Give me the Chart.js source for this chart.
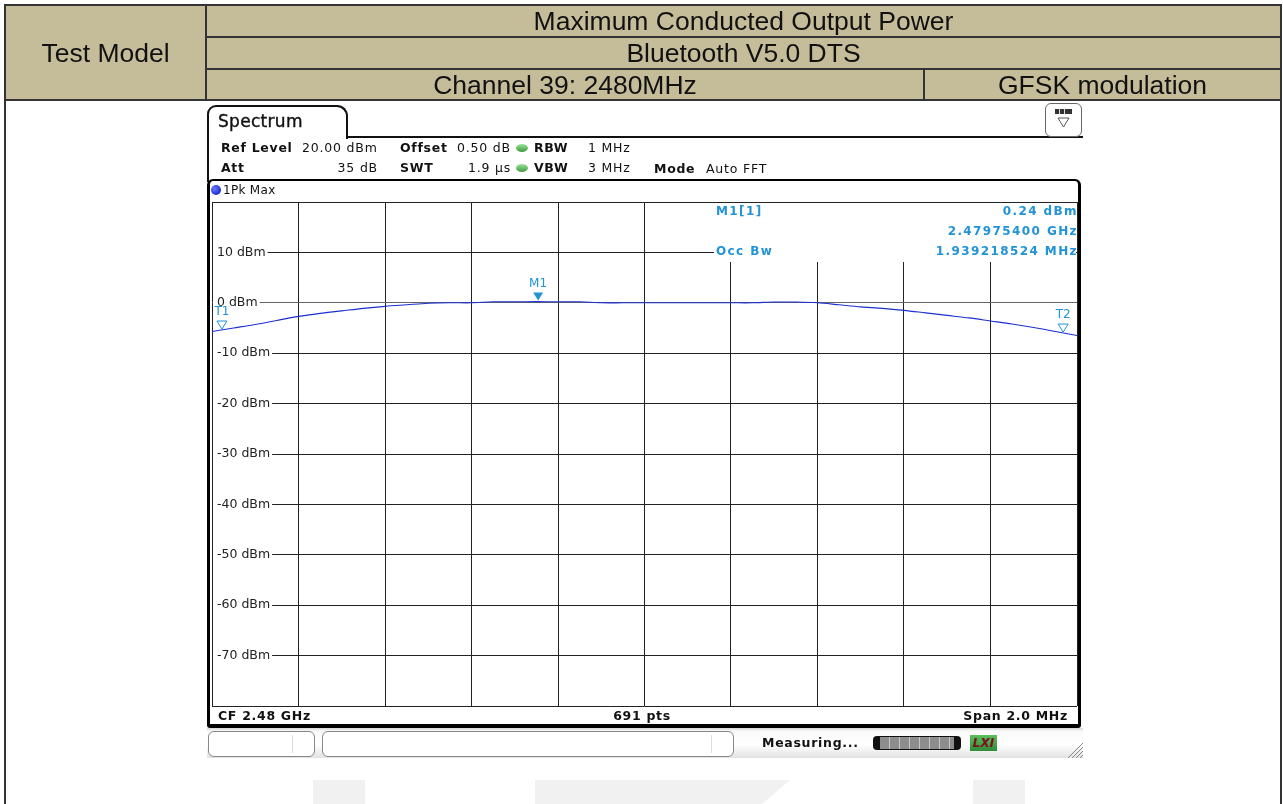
<!DOCTYPE html>
<html>
<head>
<meta charset="utf-8">
<title>Maximum Conducted Output Power - Channel 39</title>
<script src="https://cdn.jsdelivr.net/npm/chart.js"></script>
<style>
  body { margin: 0; background: #fff; overflow: hidden; }
  #page { position: relative; width: 1283px; height: 804px; }
  .abs { position: absolute; box-sizing: border-box; }
  .hdr { position: absolute; display: flex; align-items: center; justify-content: center;
         font-family: "Liberation Sans", Arial, sans-serif; font-size: 26.5px; color: #111; z-index: 3; }
  .t { position: absolute; font-family: "DejaVu Sans", sans-serif; font-size: 12.5px; line-height: 1;
       white-space: nowrap; letter-spacing: 0.8px; color: #111; transform: translateY(-50%); z-index: 3; }
  .t.b { font-weight: bold; letter-spacing: 0.7px; }
  #chartBox { position: absolute; left: 0; top: 0; width: 1283px; height: 804px; z-index: 2; }
</style>
</head>
<body>
<div id="page">
  <!-- header table -->
  <div class="abs" style="left:4px;top:4px;width:1278px;height:97px;background:#c5bd99;border:2px solid #333;"></div>
  <div class="abs" style="left:205px;top:4px;width:2px;height:97px;background:#333;"></div>
  <div class="abs" style="left:206px;top:36px;width:1076px;height:2px;background:#333;"></div>
  <div class="abs" style="left:206px;top:68px;width:1076px;height:2px;background:#333;"></div>
  <div class="abs" style="left:923px;top:69px;width:2px;height:32px;background:#333;"></div>
  <div class="abs" style="left:4px;top:100px;width:2px;height:704px;background:#333;"></div>
  <div class="abs" style="left:1280px;top:100px;width:2px;height:704px;background:#333;"></div>
  <div class="hdr" style="left:6px;top:6px;width:199px;height:94px;">Test Model</div>
  <div class="hdr" style="left:207px;top:5px;width:1073px;height:32px;">Maximum Conducted Output Power</div>
  <div class="hdr" style="left:207px;top:38px;width:1073px;height:31px;">Bluetooth V5.0 DTS</div>
  <div class="hdr" style="left:207px;top:70px;width:716px;height:31px;">Channel 39: 2480MHz</div>
  <div class="hdr" style="left:925px;top:70px;width:355px;height:31px;">GFSK modulation</div>

  <!-- watermark -->
  <div class="abs" style="left:313px;top:780px;width:52px;height:24px;background:#f1f1f1;"></div>
  <div class="abs" style="left:535px;top:780px;width:255px;height:24px;background:#f1f1f1;clip-path:polygon(0 0,100% 0,89% 100%,0 100%);"></div>
  <div class="abs" style="left:973px;top:780px;width:52px;height:24px;background:#f1f1f1;"></div>

  <!-- instrument panel -->
  <div class="abs" style="left:207px;top:105px;width:141px;height:34px;border:2px solid #111;border-bottom:none;border-radius:9px 11px 0 0;background:#fff;"></div>
  <div class="abs" style="left:346px;top:136px;width:737px;height:2px;background:#111;"></div>
  <div class="abs" style="left:207px;top:130px;width:2px;height:52px;background:#111;"></div>
  <div class="abs" style="left:1045px;top:103px;width:37px;height:34px;border:1.5px solid #666;border-radius:6px;background:#fff;z-index:3;">
    <svg width="34" height="31" style="position:absolute;left:0;top:0">
      <rect x="9" y="5" width="17" height="5" fill="#333"/>
      <line x1="13.5" y1="5" x2="13.5" y2="10" stroke="#ddd"/>
      <line x1="18.5" y1="5" x2="18.5" y2="10" stroke="#ddd"/>
      <polygon points="12,14 23,14 17.5,23" fill="none" stroke="#555"/>
    </svg>
  </div>
  <div class="abs" style="left:207px;top:179px;width:874px;height:549px;border:solid #000;border-width:2px 3px 4px 3px;border-radius:6px 6px 3px 3px;background:#fff;z-index:1;"></div>

  <!-- status bar -->
  <div class="abs" style="left:207px;top:728px;width:876px;height:30px;background:linear-gradient(to bottom,#d4d4d4 0,#fafafa 3px,#fff 55%,#e2e2e2 100%);"></div>
  <div class="abs" style="left:208px;top:731px;width:107px;height:26px;border:1px solid #888;border-radius:6px;background:#fff;"></div>
  <div class="abs" style="left:292px;top:735px;width:1px;height:18px;background:#ddd;"></div>
  <div class="abs" style="left:322px;top:731px;width:412px;height:26px;border:1px solid #888;border-radius:6px;background:#fff;"></div>
  <div class="abs" style="left:711px;top:735px;width:1px;height:18px;background:#ddd;"></div>
  <div class="abs" style="left:873px;top:736px;width:88px;height:14px;border-radius:4px;background:#111;"></div>
  <div class="abs" style="left:880px;top:737px;width:74px;height:12px;background:repeating-linear-gradient(to right,#8d8d8d 0,#8d8d8d 9px,#c8c8c8 9px,#c8c8c8 10px);"></div>
  <div class="abs" style="left:970px;top:735px;width:27px;height:16px;background:linear-gradient(#5cbf5c,#2e8b3a);font:italic bold 12px 'DejaVu Sans';color:#7a1020;text-align:center;line-height:16px;z-index:3;">LXI</div>
  <svg class="abs" style="left:1064px;top:738px;" width="19" height="20">
    <line x1="4" y1="20" x2="19" y2="5" stroke="#888"/>
    <line x1="8" y1="20" x2="19" y2="9" stroke="#888"/>
    <line x1="12" y1="20" x2="19" y2="13" stroke="#888"/>
    <line x1="16" y1="20" x2="19" y2="17" stroke="#888"/>
  </svg>
  <div class="abs" style="left:211px;top:185px;width:10px;height:10px;border-radius:50%;background:radial-gradient(circle at 35% 35%,#6a7cff,#1c2fd0 70%);z-index:3;"></div>

  <div id="chartBox"><canvas id="spec" width="1283" height="804"></canvas></div>
</div>

<script>
// trace: 1Pk Max, frequency in MHz, level in dBm
var freqMHz = [2479.00, 2479.05, 2479.10, 2479.15, 2479.20, 2479.25, 2479.30, 2479.35, 2479.40, 2479.45,
               2479.50, 2479.55, 2479.60, 2479.65, 2479.70, 2479.75, 2479.80, 2479.85, 2479.90, 2479.95,
               2480.00, 2480.05, 2480.10, 2480.15, 2480.20, 2480.25, 2480.30, 2480.35, 2480.40, 2480.45,
               2480.50, 2480.55, 2480.60, 2480.65, 2480.70, 2480.75, 2480.80, 2480.85, 2480.90, 2480.95,
               2481.00];
var traceDbm = [-5.7, -5.0, -4.3, -3.5, -2.7, -2.1, -1.6, -1.1, -0.7, -0.4,
                -0.1, 0.0, 0.0, 0.2, 0.2, 0.24, 0.2, 0.2, 0.0, 0.0,
                0.0, 0.0, 0.0, 0.0, 0.0, 0.0, 0.15, 0.15, 0.0, -0.4,
                -0.8, -1.1, -1.5, -2.0, -2.5, -3.0, -3.6, -4.2, -4.9, -5.7,
                -6.5];

// axes
var xGridMHz = [2479.0, 2479.2, 2479.4, 2479.6, 2479.8, 2480.0, 2480.2, 2480.4, 2480.6, 2480.8, 2481.0];
var yTickValues = [20, 10, 0, -10, -20, -30, -40, -50, -60, -70, -80];
var yTickLabels = ['', '10 dBm', '0 dBm', '-10 dBm', '-20 dBm', '-30 dBm', '-40 dBm', '-50 dBm', '-60 dBm', '-70 dBm', ''];

// markers
var markerNames = ['M1', 'T1', 'T2'];
var markerFreqMHz = [2479.754, 2479.023, 2480.968];
var markerDbm = [0.24, -5.4, -6.0];
var markerFilled = [true, false, false];

// marker table
var infoLabels = ['M1[1]', '', 'Occ Bw'];
var infoValues = ['0.24 dBm', '2.47975400 GHz', '1.939218524 MHz'];

// instrument settings text: [text, x, centre y, bold, align, size]
var panelTexts = [
  ['Spectrum', 218, 121, false, 'left', '17px'],
  ['Ref Level', 221, 148, true], ['20.00 dBm', 302, 148], ['Offset', 400, 148, true], ['0.50 dB', 457, 148],
  ['RBW', 534, 148, true], ['1 MHz', 588, 148],
  ['Att', 221, 168, true], ['35 dB', 378, 168, false, 'right'], ['SWT', 400, 168, true], ['1.9 µs', 468, 168],
  ['VBW', 534, 168, true], ['3 MHz', 588, 168], ['Mode', 654, 169, true], ['Auto FFT', 706, 169],
  ['1Pk Max', 223, 190, false, 'left', '12px'],
  ['CF 2.48 GHz', 218, 716, true], ['691 pts', 642, 716, true, 'center'], ['Span 2.0 MHz', 1068, 716, true, 'right'],
  ['Measuring...', 762, 743, true]
];

var page = document.getElementById('page');
panelTexts.forEach(function (p) {
  var s = document.createElement('span');
  s.className = 't' + (p[3] ? ' b' : '');
  s.textContent = p[0];
  s.style.left = p[1] + 'px';
  s.style.top = p[2] + 'px';
  if (p[4] === 'right') s.style.transform = 'translate(-100%,-50%)';
  if (p[4] === 'center') s.style.transform = 'translate(-50%,-50%)';
  if (p[5]) { s.style.fontSize = p[5]; s.style.letterSpacing = '0.3px'; }
  if (p[0] === 'Spectrum') s.style.webkitTextStroke = '0.4px #111';
  page.appendChild(s);
});

// green dots in the settings rows
[148, 168].forEach(function (y) {
  var d = document.createElement('div');
  d.className = 'abs';
  d.style.cssText += 'left:516px;top:' + (y - 4) + 'px;width:12px;height:8px;border-radius:50%;background:linear-gradient(#9be39b,#3f9a3f);z-index:3;';
  page.appendChild(d);
});

var markerPlugin = {
  id: 'markers',
  afterDatasetsDraw: function (chart) {
    var ctx = chart.ctx, xs = chart.scales.x, ys = chart.scales.y, area = chart.chartArea;
    var cyan = '#2193d6';
    ctx.save();

    // marker result table in upper right
    var bx = Math.round(xs.getPixelForValue(xGridMHz[5])) + 1;
    var y10 = Math.round(ys.getPixelForValue(yTickValues[1]));
    ctx.fillStyle = '#fff';
    ctx.fillRect(bx, area.top + 1, area.right - bx - 1, y10 + 9 - area.top);
    ctx.strokeStyle = '#222';
    ctx.lineWidth = 1;
    ctx.beginPath();
    ctx.moveTo(bx, y10 + 0.5);
    ctx.lineTo(bx + 68, y10 + 0.5);
    ctx.stroke();

    ctx.fillStyle = cyan;
    ctx.font = 'bold 12px "DejaVu Sans"';
    ctx.letterSpacing = '1.4px';
    ctx.textBaseline = 'middle';
    for (var i = 0; i < infoValues.length; i++) {
      var ty = area.top + 10 + i * 20;
      ctx.textAlign = 'left';
      if (infoLabels[i]) ctx.fillText(infoLabels[i], bx + 70, ty);
      ctx.textAlign = 'right';
      ctx.fillText(infoValues[i], area.right + 1, ty);
    }

    // marker symbols
    ctx.letterSpacing = '0px';
    ctx.font = '12px "DejaVu Sans"';
    ctx.textAlign = 'center';
    for (var m = 0; m < markerNames.length; m++) {
      var px = xs.getPixelForValue(markerFreqMHz[m]);
      var py = ys.getPixelForValue(markerDbm[m]) - 1;
      ctx.beginPath();
      ctx.moveTo(px, py);
      ctx.lineTo(px - 5, py - 8);
      ctx.lineTo(px + 5, py - 8);
      ctx.closePath();
      if (markerFilled[m]) {
        ctx.fillStyle = cyan;
        ctx.fill();
      } else {
        ctx.strokeStyle = cyan;
        ctx.lineWidth = 1;
        ctx.stroke();
      }
      ctx.fillStyle = cyan;
      ctx.fillText(markerNames[m], px, py - 17);
    }
    ctx.restore();
  }
};

new Chart(document.getElementById('spec'), {
  type: 'line',
  data: {
    datasets: [{
      label: '1Pk Max',
      data: freqMHz.map(function (f, i) { return { x: f, y: traceDbm[i] }; }),
      borderColor: '#1c2fd0',
      borderWidth: 1.1,
      pointRadius: 0,
      tension: 0.3
    }]
  },
  options: {
    responsive: false,
    animation: false,
    layout: { padding: { left: 212, top: 202, right: 206, bottom: 98 } },
    plugins: { legend: { display: false }, tooltip: { enabled: false } },
    scales: {
      x: {
        type: 'linear',
        min: xGridMHz[0],
        max: xGridMHz[xGridMHz.length - 1],
        afterBuildTicks: function (s) { s.ticks = xGridMHz.map(function (v) { return { value: v }; }); },
        afterFit: function (s) { s.height = 0; },
        ticks: { display: false },
        grid: { color: '#222', lineWidth: 1, drawTicks: false },
        border: { display: false }
      },
      y: {
        min: -80,
        max: 20,
        afterBuildTicks: function (s) { s.ticks = yTickValues.map(function (v) { return { value: v }; }); },
        afterFit: function (s) { s.width = 0; },
        ticks: {
          mirror: true,
          padding: 5,
          color: '#222',
          font: { family: 'DejaVu Sans', size: 12.5 },
          callback: function (v) { return yTickLabels[yTickValues.indexOf(v)]; },
          showLabelBackdrop: true,
          backdropColor: function (c) {
            return yTickLabels[yTickValues.indexOf(c.tick.value)] ? '#fff' : 'rgba(0,0,0,0)';
          },
          backdropPadding: { left: 4, right: 2, top: 0, bottom: 0 }
        },
        grid: {
          color: function (c) { return c.tick && c.tick.value === 0 ? '#666' : '#222'; },
          lineWidth: 1,
          drawTicks: false
        },
        border: { display: false }
      }
    }
  },
  plugins: [markerPlugin]
});
</script>
</body>
</html>
